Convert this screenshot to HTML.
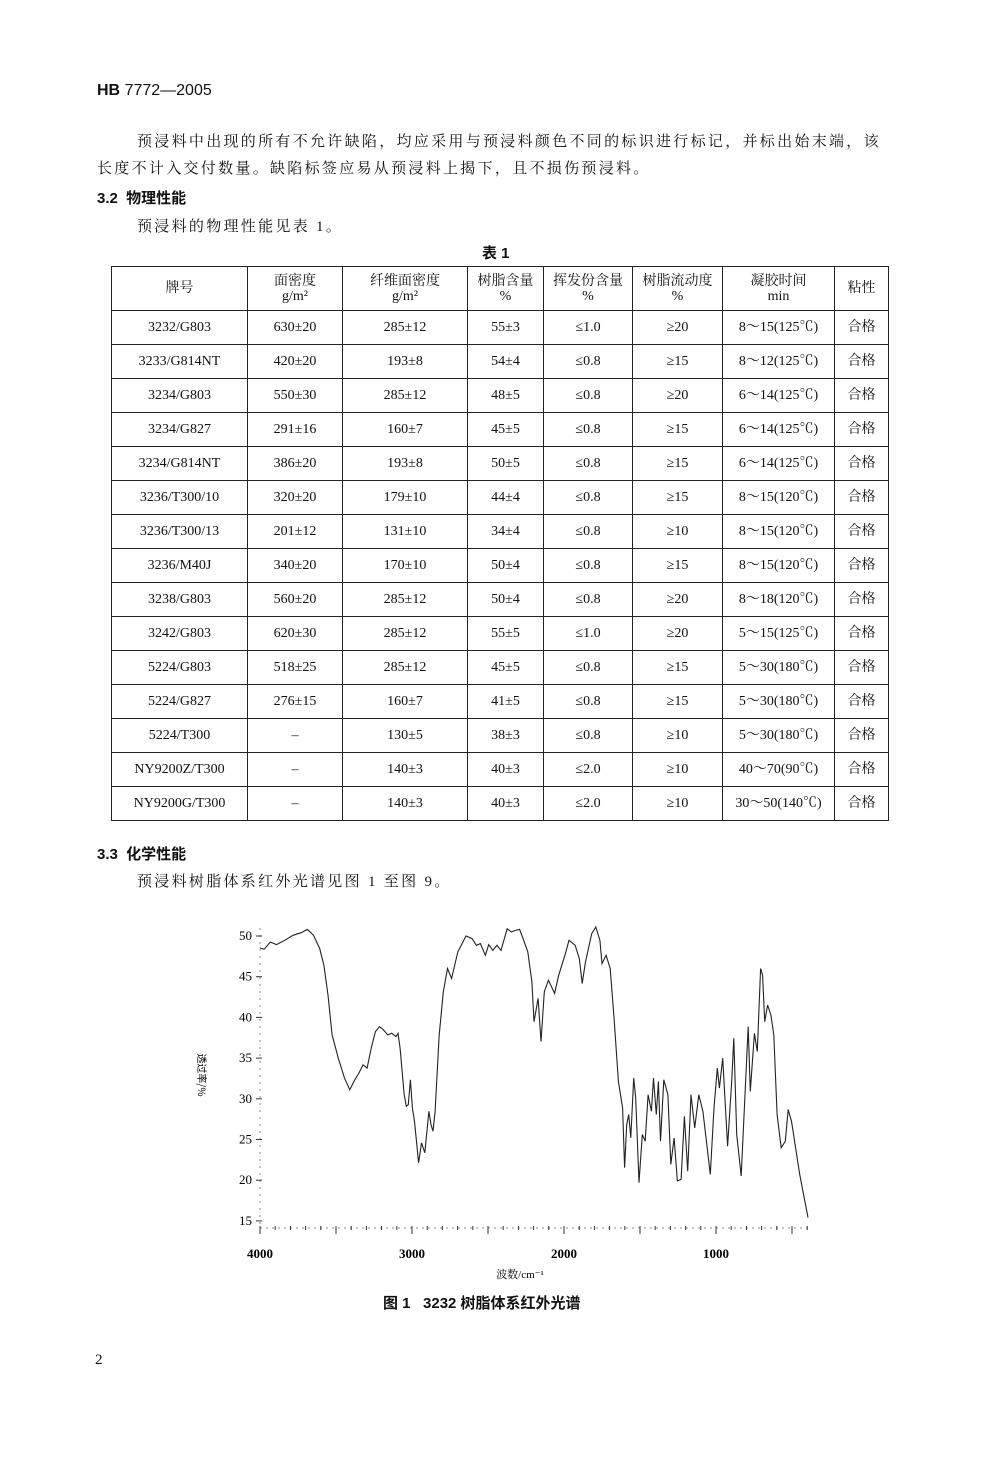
<!DOCTYPE html>
<html><head><meta charset="utf-8"><style>
body{margin:0;background:#fff;}
#p{position:relative;width:1000px;height:1463px;background:#fff;font-family:"Liberation Serif","Noto Serif CJK SC","Noto Sans CJK SC",serif;color:#111;}
.t{position:absolute;white-space:nowrap;font-size:15px;}
.ls{letter-spacing:2.3px;}
.h{font-family:"Liberation Sans","Noto Sans CJK SC",sans-serif;font-weight:bold;}
table{position:absolute;left:111px;top:266px;border-collapse:collapse;font-size:14px;}
td{border:1.3px solid #222;text-align:center;height:33px;padding:0;line-height:15px;}
tr.hd td{height:43px;}
</style></head><body><div id="p">
<div class="t h" style="left:97px;top:82px;font-size:16px">HB <span style="font-weight:normal">7772—2005</span></div>
<div class="t ls" style="left:137px;top:130px">预浸料中出现的所有不允许缺陷，均应采用与预浸料颜色不同的标识进行标记，并标出始末端，该</div>
<div class="t ls" style="left:97px;top:157px">长度不计入交付数量。缺陷标签应易从预浸料上揭下，且不损伤预浸料。</div>
<div class="t h" style="left:97px;top:187px">3.2&nbsp;&nbsp;物理性能</div>
<div class="t ls" style="left:137px;top:215px">预浸料的物理性能见表 1。</div>
<div class="t h" style="left:482px;top:242px">表 1</div>
<table>
<colgroup><col style="width:136px"><col style="width:95px"><col style="width:125px"><col style="width:76px"><col style="width:89px"><col style="width:90px"><col style="width:112px"><col style="width:54px"></colgroup>
<tr class="hd"><td>牌号</td><td>面密度<br>g/m²</td><td>纤维面密度<br>g/m²</td><td>树脂含量<br>%</td><td>挥发份含量<br>%</td><td>树脂流动度<br>%</td><td>凝胶时间<br>min</td><td>粘性</td></tr>
<tr><td>3232/G803</td><td>630±20</td><td>285±12</td><td>55±3</td><td>≤1.0</td><td>≥20</td><td>8～15(125℃)</td><td>合格</td></tr>
<tr><td>3233/G814NT</td><td>420±20</td><td>193±8</td><td>54±4</td><td>≤0.8</td><td>≥15</td><td>8～12(125℃)</td><td>合格</td></tr>
<tr><td>3234/G803</td><td>550±30</td><td>285±12</td><td>48±5</td><td>≤0.8</td><td>≥20</td><td>6～14(125℃)</td><td>合格</td></tr>
<tr><td>3234/G827</td><td>291±16</td><td>160±7</td><td>45±5</td><td>≤0.8</td><td>≥15</td><td>6～14(125℃)</td><td>合格</td></tr>
<tr><td>3234/G814NT</td><td>386±20</td><td>193±8</td><td>50±5</td><td>≤0.8</td><td>≥15</td><td>6～14(125℃)</td><td>合格</td></tr>
<tr><td>3236/T300/10</td><td>320±20</td><td>179±10</td><td>44±4</td><td>≤0.8</td><td>≥15</td><td>8～15(120℃)</td><td>合格</td></tr>
<tr><td>3236/T300/13</td><td>201±12</td><td>131±10</td><td>34±4</td><td>≤0.8</td><td>≥10</td><td>8～15(120℃)</td><td>合格</td></tr>
<tr><td>3236/M40J</td><td>340±20</td><td>170±10</td><td>50±4</td><td>≤0.8</td><td>≥15</td><td>8～15(120℃)</td><td>合格</td></tr>
<tr><td>3238/G803</td><td>560±20</td><td>285±12</td><td>50±4</td><td>≤0.8</td><td>≥20</td><td>8～18(120℃)</td><td>合格</td></tr>
<tr><td>3242/G803</td><td>620±30</td><td>285±12</td><td>55±5</td><td>≤1.0</td><td>≥20</td><td>5～15(125℃)</td><td>合格</td></tr>
<tr><td>5224/G803</td><td>518±25</td><td>285±12</td><td>45±5</td><td>≤0.8</td><td>≥15</td><td>5～30(180℃)</td><td>合格</td></tr>
<tr><td>5224/G827</td><td>276±15</td><td>160±7</td><td>41±5</td><td>≤0.8</td><td>≥15</td><td>5～30(180℃)</td><td>合格</td></tr>
<tr><td>5224/T300</td><td>–</td><td>130±5</td><td>38±3</td><td>≤0.8</td><td>≥10</td><td>5～30(180℃)</td><td>合格</td></tr>
<tr><td>NY9200Z/T300</td><td>–</td><td>140±3</td><td>40±3</td><td>≤2.0</td><td>≥10</td><td>40～70(90℃)</td><td>合格</td></tr>
<tr><td>NY9200G/T300</td><td>–</td><td>140±3</td><td>40±3</td><td>≤2.0</td><td>≥10</td><td>30～50(140℃)</td><td>合格</td></tr>
</table>
<div class="t h" style="left:97px;top:843px">3.3&nbsp;&nbsp;化学性能</div>
<div class="t ls" style="left:137px;top:870px">预浸料树脂体系红外光谱见图 1 至图 9。</div>
<svg id="c" style="position:absolute;left:0;top:0" width="1000" height="1463" font-family="Liberation Serif,serif" font-size="13"></svg>
<div class="t h" style="left:383px;top:1292px">图 1&nbsp;&nbsp;&nbsp;3232 树脂体系红外光谱</div>
<div class="t" style="left:95px;top:1352px">2</div>
</div>
<script>
var z=[190,118,200,122,215,100,230,108,250,95,270,80,290,72,305,62,320,80,335,120,345,170,355,260,365,380,380,450,395,510,408,545,420,515,430,495,440,470,450,480,460,420,470,370,480,355,490,365,500,380,510,375,520,385,525,375,530,420,540,560,545,595,550,590,555,515,560,600,565,640,575,765,582,705,590,735,600,610,605,650,610,670,615,610,625,380,635,250,645,180,655,210,670,130,690,82,705,90,715,110,725,105,737,140,745,108,755,125,765,110,775,125,790,60,800,70,810,65,820,62,830,95,840,130,850,220,855,340,865,270,872,400,880,250,890,215,905,255,915,200,930,140,940,95,955,110,965,150,972,225,980,160,995,75,1005,55,1015,95,1020,165,1030,140,1040,180,1050,340,1060,520,1070,600,1075,780,1080,650,1085,620,1090,690,1097,510,1102,570,1110,825,1118,680,1125,700,1132,560,1140,610,1145,510,1152,620,1157,520,1162,700,1170,515,1180,560,1187,770,1195,690,1203,820,1212,815,1220,625,1228,790,1236,560,1245,660,1255,560,1265,610,1283,800,1292,600,1300,480,1305,540,1313,450,1325,715,1335,520,1340,390,1347,680,1358,805,1368,540,1375,355,1380,550,1390,375,1397,430,1405,180,1410,200,1415,340,1422,290,1430,320,1437,380,1445,620,1455,720,1465,700,1472,605,1480,640,1500,800,1520,930];
function X(w){return 260+(4000-w)*0.152}function Y(t){return 936+(50-t)*8.14}
var s='',p='';for(var i=0;i<z.length;i+=2)p+=(i?'L':'M')+(260+(z[i]-190)*0.412).toFixed(1)+' '+(936+(z[i+1]-82)*0.332).toFixed(1);
s+='<path d="'+p+'" fill="none" stroke="#222" stroke-width="1.1"/>';
s+='<line x1="260" y1="1228" x2="810" y2="1228" stroke="#888" stroke-dasharray="2 4"/>';
s+='<line x1="260" y1="928" x2="260" y2="1228" stroke="#888" stroke-dasharray="2 5"/>';
for(var t=15;t<=50;t+=5){s+='<text x="252" y="'+(Y(t)+4)+'" text-anchor="end">'+t+'</text><line x1="256" x2="262" y1="'+Y(t)+'" y2="'+Y(t)+'" stroke="#333"/>';}
for(var w=4000;w>=400;w-=100){var h=(w%500==0)?8:4;s+='<line x1="'+X(w)+'" x2="'+X(w)+'" y1="1226" y2="'+(1226+h)+'" stroke="#333"/>';}
[4000,3000,2000,1000].forEach(function(w){s+='<text x="'+X(w)+'" y="1258" text-anchor="middle" font-weight="bold">'+w+'</text>';});
s+='<text x="520" y="1278" text-anchor="middle" font-size="11" font-family="Liberation Serif,Noto Serif CJK SC,serif">波数/cm⁻¹</text>';
s+='<text transform="translate(198,1075) rotate(90)" text-anchor="middle" font-size="10" font-family="Noto Sans CJK SC,sans-serif">透过率/%</text>';
document.getElementById('c').innerHTML=s;
</script>
</body></html>
